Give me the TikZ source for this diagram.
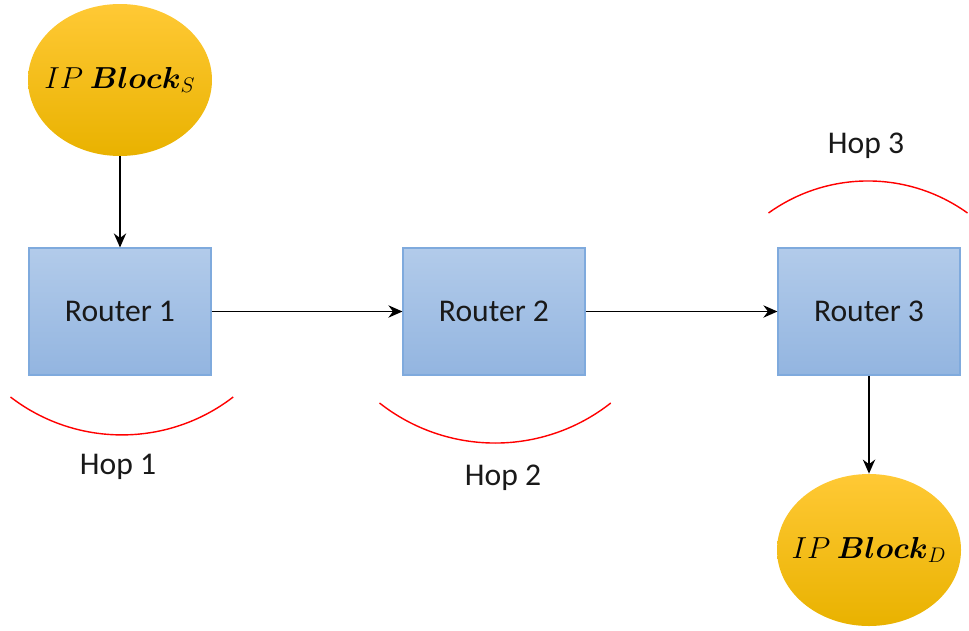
\documentclass[tikz,border=0pt]{standalone}
\usepackage{amsmath}
\usepackage{fontspec}
\setmainfont{Carlito}
\usetikzlibrary{shapes.geometric,arrows.meta}
\definecolor{routertop}{HTML}{B2CBEA}
\definecolor{routerbot}{HTML}{93B5E0}
\definecolor{routeredge}{HTML}{7FAADD}
\definecolor{goldtop}{HTML}{FFC935}
\definecolor{goldbot}{HTML}{E9B200}

\begin{document}
\begin{tikzpicture}[
    router/.style={draw=routeredge, line width=0.6pt, top color=routertop, bottom color=routerbot,
        minimum width=3.64cm, minimum height=2.54cm, inner sep=0pt, font=\fontsize{18}{21}\selectfont, text=black!90},
    ipblock/.style={ellipse, top color=goldtop, bottom color=goldbot, shading angle=0,
        minimum width=3.68cm, minimum height=3.04cm, inner xsep=-0.4cm, inner ysep=0pt, font=\fontsize{16.5}{20}\selectfont},
    link/.style={-{Stealth[length=8pt,width=7pt]}, line width=1pt},
    hop/.style={red, line width=0.8pt},
    hoplabel/.style={font=\fontsize{18}{21}\selectfont, text=black!90}]
    \useasboundingbox (0,0) rectangle (19.38,12.6);
        \node[ipblock](src)at(2.4,11.0){$IP\ \boldsymbol{Block}_{S}$};
        \node[router](r1)at(2.4,6.37){Router 1};
        \node[router](r2)at(9.88,6.37){Router 2};
        \node[router](r3)at(17.38,6.37){Router 3};
        \node[ipblock](dst)at(17.38,1.6){$IP\ \boldsymbol{Block}_{D}$};
        \draw[link](src)--(r1);
        \draw[link](r1)--(r2);
        \draw[link](r2)--(r3);
        \draw[link](r3)--(dst);
        \draw[hop](0.21,4.66)arc[start angle=232.4, end angle=307.6, radius=3.65];
        \draw[hop](7.59,4.54)arc[start angle=231.8, end angle=308.2, radius=3.74];
        \draw[hop](15.37,8.34)arc[start angle=125.7, end angle=54.3, radius=3.41];
        \node[hoplabel](h1)at(2.36,3.26){Hop 1};
        \node[hoplabel](h2)at(10.06,3.04){Hop 2};
        \node[hoplabel](h3)at(17.32,9.68){Hop 3};
\end{tikzpicture}
\end{document}
